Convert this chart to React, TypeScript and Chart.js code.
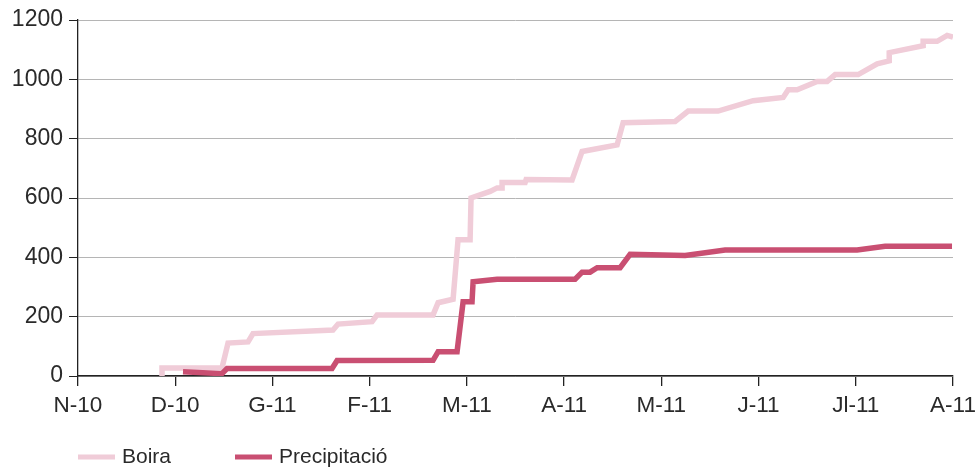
import React, { useEffect, useRef } from "react";
import { Chart, registerables } from "chart.js";

Chart.register(...registerables);

// Month tick labels (x positions are month indices 0..9)
const monthLabels = ["N-10", "D-10", "G-11", "F-11", "M-11", "A-11", "M-11", "J-11", "Jl-11", "A-11"];

// Cumulative series: x in month units from N-10, y values
const boiraX = [0.864, 0.864, 1.481, 1.543, 1.749, 1.8, 2.623, 2.675, 3.025, 3.076, 3.652, 3.704, 3.858, 3.909, 4.033, 4.043, 4.239, 4.311, 4.362, 4.362, 4.599, 4.609, 5.082, 5.185, 5.545, 5.607, 6.142, 6.276, 6.584, 6.944, 7.253, 7.305, 7.397, 7.603, 7.706, 7.788, 8.025, 8.22, 8.344, 8.344, 8.693, 8.693, 8.837, 8.94, 9.0];
const boiraY = [0, 27, 27, 111, 115, 143, 155, 175, 183, 206, 206, 247, 259, 459, 459, 600, 622, 634, 634, 652, 652, 662, 661, 757, 779, 854, 858, 893, 893, 928, 939, 965, 965, 993, 993, 1016, 1016, 1052, 1062, 1090, 1113, 1128, 1128, 1148, 1142];

const precipX = [1.08, 1.481, 1.533, 2.613, 2.665, 3.652, 3.704, 3.899, 3.961, 4.053, 4.064, 4.311, 5.113, 5.185, 5.267, 5.34, 5.576, 5.679, 6.245, 6.656, 8.014, 8.302, 8.99];
const precipY = [14, 8, 25, 25, 52, 53, 82, 82, 250, 250, 318, 326, 326, 350, 350, 365, 365, 410, 406, 425, 425, 437, 437];

const seriesNames = ["Boira", "Precipitació"];
const seriesColors = ["#f0ccd8", "#c94f72"];

const FONT = "'Liberation Sans', Arial, Helvetica, sans-serif";
const TEXT = "#2a2a2a";

const legendPlugin = {
  id: "customLegend",
  afterDraw(chart: any) {
    const ctx = chart.ctx;
    const left = chart.chartArea.left;
    const y = 457;
    ctx.save();
    ctx.font = `21px ${FONT}`;
    ctx.textBaseline = "alphabetic";
    const offsets = [0, 157];
    seriesNames.forEach((name, i) => {
      const x0 = left + offsets[i];
      ctx.fillStyle = seriesColors[i];
      ctx.fillRect(x0, y - 2.5, 37, 5);
      ctx.fillStyle = TEXT;
      ctx.fillText(name, x0 + 44, 463);
    });
    ctx.restore();
  },
};

export default function App() {
  const ref = useRef<HTMLCanvasElement>(null);
  useEffect(() => {
    document.body.style.margin = "0";
    const toPts = (xs: number[], ys: number[]) => xs.map((x, i) => ({ x, y: ys[i] }));
    const chart = new Chart(ref.current!, {
      type: "line",
      data: {
        datasets: [
          {
            label: seriesNames[0],
            data: toPts(boiraX, boiraY),
            borderColor: seriesColors[0],
            backgroundColor: seriesColors[0],
            borderWidth: 5.5,
            pointRadius: 0,
            tension: 0,
            order: 2,
          },
          {
            label: seriesNames[1],
            data: toPts(precipX, precipY),
            borderColor: seriesColors[1],
            backgroundColor: seriesColors[1],
            borderWidth: 5.5,
            pointRadius: 0,
            tension: 0,
            order: 1,
          },
        ],
      },
      options: {
        responsive: false,
        animation: false,
        layout: { padding: { top: 20, right: 26, left: 0, bottom: 0 } },
        plugins: { legend: { display: false }, tooltip: { enabled: false } },
        scales: {
          x: {
            type: "linear",
            min: 0,
            max: 9,
            afterFit: (s: any) => {
              s.height = 93;
              s.paddingRight = 0;
              s.paddingLeft = 0;
            },
            ticks: {
              stepSize: 1,
              autoSkip: false,
              maxRotation: 0,
              padding: 6,
              color: TEXT,
              font: { size: 22.5, family: FONT },
              callback: (v: any) => monthLabels[Math.round(Number(v))] ?? "",
            },
            grid: { drawOnChartArea: false, tickLength: 10, tickColor: "#222", lineWidth: 1.3 },
            border: { color: "#222", width: 1.5 },
          },
          y: {
            min: 0,
            max: 1200,
            afterFit: (s: any) => {
              s.width = 78;
              s.paddingTop = 0;
            },
            ticks: {
              stepSize: 200,
              padding: 6,
              color: TEXT,
              font: { size: 23, family: FONT },
              callback: (v: any) => String(v),
            },
            grid: { color: "#b5b5b5", lineWidth: 1, tickLength: 9, tickColor: "#222" },
            border: { color: "#222", width: 1.3 },
          },
        },
      },
      plugins: [legendPlugin],
    });
    return () => chart.destroy();
  }, []);
  return (
    <div style={{ position: "absolute", left: 0, top: 0, width: 979, height: 469 }}>
      <canvas ref={ref} width={979} height={469} />
    </div>
  );
}
